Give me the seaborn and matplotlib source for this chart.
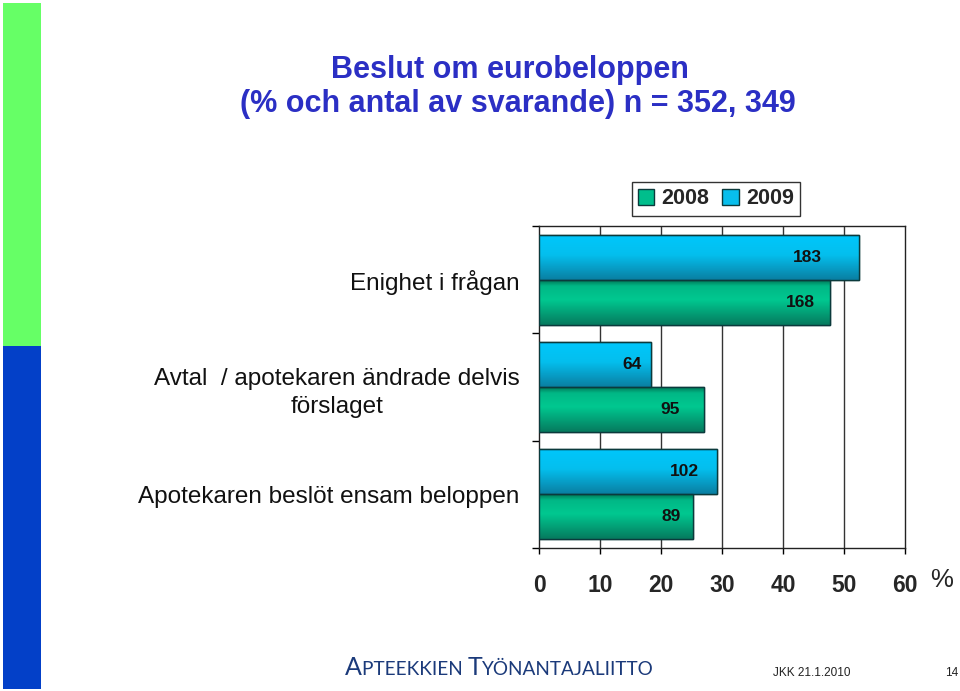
import numpy as np
import pandas as pd
import matplotlib
matplotlib.use("Agg")
import matplotlib.pyplot as plt
import seaborn as sns
from matplotlib.patches import Patch, Rectangle
from matplotlib.colors import LinearSegmentedColormap

# ---------------- data ----------------
categories = ["Enighet i frågan",
              "Avtal  / apotekaren ändrade delvis\nförslaget",
              "Apotekaren beslöt ensam beloppen"]
years = ["2009", "2008"]
pct_2009 = [52.4, 18.3, 29.2]
pct_2008 = [47.7, 27.0, 25.3]
count_2009 = [183, 64, 102]
count_2008 = [168, 95, 89]
x_ticks = [0, 10, 20, 30, 40, 50, 60]

title_line1 = "Beslut om eurobeloppen"
title_line2 = "(% och antal av svarande) n = 352, 349"

df = pd.DataFrame({
    "Kategori": categories * 2,
    "År": ["2009"] * 3 + ["2008"] * 3,
    "Procent": pct_2009 + pct_2008,
})

# ---------------- style ----------------
sns.set_theme(style="white")
plt.rcParams["font.family"] = ["Liberation Sans", "DejaVu Sans"]

col_2009 = "#08BEEC"
col_2008 = "#00BE8C"
palette = {"2009": col_2009, "2008": col_2008}

fig = plt.figure(figsize=(9.6, 6.91), dpi=100)
ax = fig.add_axes([539 / 960, 1 - 548 / 691, (905 - 539) / 960, (548 - 226) / 691])

sns.barplot(data=df, y="Kategori", x="Procent", hue="År", hue_order=years,
            order=categories, orient="h", palette=palette, width=0.84,
            edgecolor="#0B3A3C", linewidth=1.0, ax=ax, legend=False,
            saturation=1, zorder=3)

# gradient shading on bars (3D look)
grad_2009 = LinearSegmentedColormap.from_list(
    "g09", [(0, "#0078A0"), (0.06, "#00C6FA"), (0.45, "#04BFEE"), (1.0, "#0A7FA2")])
grad_2008 = LinearSegmentedColormap.from_list(
    "g08", [(0, "#006E50"), (0.15, "#00B886"), (0.45, "#00C890"), (1.0, "#067A5E")])
bars = [p for p in ax.patches if isinstance(p, Rectangle) and p.get_width() > 0]
grad = np.linspace(0, 1, 100).reshape(-1, 1)
for p in bars:
    x0, y0, w, h = p.get_x(), p.get_y(), p.get_width(), p.get_height()
    fc = matplotlib.colors.to_hex(p.get_facecolor())
    cmap = grad_2009 if fc.lower() == col_2009.lower() else grad_2008
    im = ax.imshow(grad, cmap=cmap, aspect="auto",
                   extent=(x0, x0 + w, y0 + h, y0), zorder=3.5, interpolation="bilinear")
    im.set_clip_path(p)
    ax.add_patch(Rectangle((x0, y0), w, h, fill=False, edgecolor="#0B3A3C",
                           linewidth=1.0, zorder=4))

# value labels (counts) inside bar ends
label_dx_2009 = [37, 9, 18]
label_dx_2008 = [15, 24, 13]
conts = ax.containers
for cont, counts, dxs in [(conts[0], count_2009, label_dx_2009),
                          (conts[1], count_2008, label_dx_2008)]:
    for p, c, dx in zip(cont.patches, counts, dxs):
        ax.annotate(str(c), xy=(p.get_x() + p.get_width(), p.get_y() + p.get_height() / 2),
                    xytext=(-dx * 0.72, 0), textcoords="offset points",
                    ha="right", va="center", fontsize=12.5, fontweight="bold",
                    color="#111111", zorder=6)

ax.set_xlim(0, 60)
ax.set_ylim(2.5, -0.5)
ax.set_xticks(x_ticks)
ax.set_xticklabels([str(t) for t in x_ticks], fontsize=16.5, fontweight="bold")
ax.tick_params(axis="x", bottom=True, direction="out", length=4.5, width=1,
               color="black", pad=14.5)
ax.set_yticks(range(len(categories)))
ax.set_yticklabels(categories, fontsize=17.5, multialignment="center", linespacing=1.4)
ax.tick_params(axis="y", which="major", left=False, pad=8)
ax.set_yticks([-0.5, 0.5, 1.5, 2.5], minor=True)
ax.tick_params(axis="y", which="minor", left=True, direction="out", length=5,
               width=1, color="black")
ax.set_xlabel("")
ax.set_ylabel("")
for t in ax.get_yticklabels():
    t.set_color("#111111")

ax.grid(False)
for xv in x_ticks[1:-1]:
    ax.axvline(xv, color="#333333", linewidth=1.0, zorder=1)
for s in ax.spines.values():
    s.set_visible(True)
    s.set_color("#222222")
    s.set_linewidth(1.0)

# legend
handles = [Patch(facecolor=col_2008, edgecolor="#0B3A3C", label="2008"),
           Patch(facecolor=col_2009, edgecolor="#0B3A3C", label="2009")]
leg = fig.legend(handles=handles, loc="center", bbox_to_anchor=(716 / 960, 1 - 199 / 691),
                 ncol=2, frameon=True, fancybox=False, framealpha=1,
                 edgecolor="#333333", handlelength=0.75, handleheight=0.75,
                 handletextpad=0.35, columnspacing=0.6, borderpad=0.3,
                 prop={"size": 15.5, "weight": "bold"})
leg.get_frame().set_linewidth(1.0)

# "%" sign
fig.text(942 / 960, 1 - 580 / 691, "%", fontsize=18.5, ha="center", va="center")

# title
title_col = "#2B2FC4"
fig.text(510 / 960, 1 - 70 / 691, title_line1, fontsize=22, fontweight="bold",
         color=title_col, ha="center", va="center")
fig.text(518 / 960, 1 - 104 / 691, title_line2, fontsize=22, fontweight="bold",
         color=title_col, ha="center", va="center")

# left colour strip
fig.patches.append(Rectangle((3 / 960, 1 - 346 / 691), 38 / 960, 343 / 691,
                             transform=fig.transFigure, facecolor="#66FF66",
                             edgecolor="none"))
fig.patches.append(Rectangle((3 / 960, 1 - 689 / 691), 38 / 960, 343 / 691,
                             transform=fig.transFigure, facecolor="#0340C8",
                             edgecolor="none"))

# footer logo as pseudo small caps
logo_col = "#1B3A7A"
renderer = fig.canvas.get_renderer()
xpx = 345
base_y = 1 - 675 / 691
for seg, size in [("A", 18), ("PTEEKKIEN ", 13.7), ("T", 18), ("YÖNANTAJALIITTO", 13.7)]:
    t = fig.text(xpx / 960, base_y, seg, fontsize=size, color=logo_col,
                 ha="left", va="baseline", family=["Lato", "DejaVu Sans"])
    bb = t.get_window_extent(renderer)
    xpx = bb.x1

fig.text(773 / 960, 1 - 676 / 691, "JKK 21.1.2010", fontsize=8.5, color="#222222",
         ha="left", va="baseline")
fig.text(958 / 960, 1 - 676 / 691, "14", fontsize=8.5, color="#222222",
         ha="right", va="baseline")

fig.savefig("out.png", dpi=100)
